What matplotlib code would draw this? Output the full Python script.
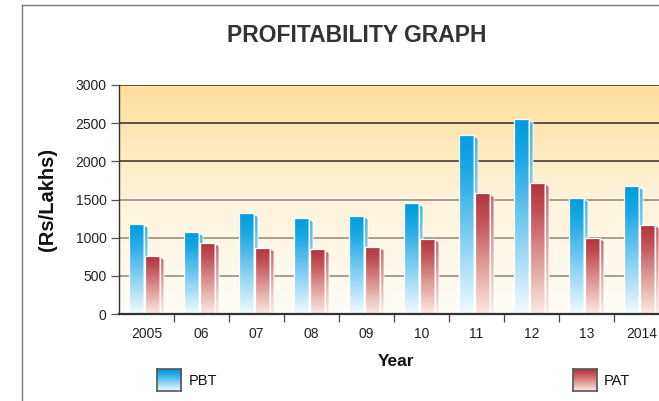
import numpy as np
import matplotlib
matplotlib.use("Agg")
import matplotlib.pyplot as plt
from matplotlib.colors import LinearSegmentedColormap
from matplotlib.patches import Polygon, Rectangle
from matplotlib.lines import Line2D

plt.rcParams['font.family'] = ['Liberation Sans', 'DejaVu Sans']

years = ["2005", "06", "07", "08", "09", "10", "11", "12", "13", "2014"]
pbt = [1180, 1070, 1320, 1255, 1290, 1450, 2345, 2550, 1520, 1675]
pat = [760, 935, 870, 845, 880, 985, 1580, 1715, 1000, 1170]
series_names = ["PBT", "PAT"]
yticks = [0, 500, 1000, 1500, 2000, 2500, 3000]

W, H = 659, 401
fig = plt.figure(figsize=(W / 100, H / 100), dpi=100)
fig.patch.set_facecolor("white")

ax = fig.add_axes([119 / W, (H - 314) / H, 550 / W, 229 / H])
ax.set_xlim(-0.5, len(years) - 0.5)
ax.set_ylim(0, 3000)

# background gradient
bg_cmap = LinearSegmentedColormap.from_list("bg", ["#FFFDF8", "#FEF3DA", "#FDDF9B"])
grad = np.linspace(0, 1, 256).reshape(-1, 1)
ax.imshow(grad, cmap=bg_cmap, origin="lower", aspect="auto",
          extent=[-0.5, len(years) - 0.5, 0, 3000], zorder=0)

# gridlines
for v in yticks[1:]:
    col = "#2e2e2e" if v >= 2000 else "#8d877b"
    ax.axhline(v, color=col, lw=1.1, zorder=1)

blue_cmap = LinearSegmentedColormap.from_list(
    "b", [(0, "#F2FAFE"), (0.45, "#7ACCF0"), (0.8, "#1CA8E4"), (1, "#009CDD")])
red_cmap = LinearSegmentedColormap.from_list(
    "r", [(0, "#FBE9E4"), (0.45, "#DC9490"), (0.8, "#C04E52"), (1, "#B2343B")])
blue_side = LinearSegmentedColormap.from_list(
    "bs", [(0, "#F4FBFE"), (0.5, "#9AD8F3"), (1, "#3DB4E8")])
red_side = LinearSegmentedColormap.from_list(
    "rs", [(0, "#FCEDEA"), (0.5, "#E5AAA6"), (1, "#C8625F")])

wf = 15 / 55   # front face width
ws = 4 / 55    # side face width
dtop = 45      # slant of side top (data units)


def draw_bar(x0, h, cmap, scmap, z):
    g = np.linspace(0, 1, 200).reshape(-1, 1)
    im = ax.imshow(g, cmap=cmap, origin="lower", aspect="auto",
                   extent=[x0, x0 + wf, 0, h], zorder=z)
    front = Rectangle((x0, 0), wf, h, transform=ax.transData)
    im.set_clip_path(front)
    xr = x0 + wf
    side_pts = [(xr, 0), (xr, h - 10), (xr + ws * 0.6, h - dtop * 0.7),
                (xr + ws, h - dtop), (xr + ws, 0)]
    im2 = ax.imshow(g, cmap=scmap, origin="lower", aspect="auto",
                    extent=[xr, xr + ws, 0, h], zorder=z)
    sp = Polygon(side_pts, closed=True, transform=ax.transData)
    im2.set_clip_path(sp)
    ax.add_patch(Rectangle((x0, 0), wf, h, fill=False, ec="white", lw=0.9, zorder=z + 0.1))
    ax.add_patch(Polygon(side_pts, closed=True, fill=False, ec="white", lw=0.6, zorder=z + 0.1))


x = np.arange(len(years))
for i in range(len(years)):
    draw_bar(x[i] - 17.5 / 55, pbt[i], blue_cmap, blue_side, 2)
    draw_bar(x[i] - 1.5 / 55, pat[i], red_cmap, red_side, 3)

ax.set_xlim(-0.5, len(years) - 0.5)
ax.set_ylim(0, 3000)

# axes styling
for s in ["top", "right"]:
    ax.spines[s].set_visible(False)
ax.spines["left"].set_color("#333333")
ax.spines["bottom"].set_color("#333333")
ax.spines["bottom"].set_linewidth(1.6)
ax.spines["left"].set_linewidth(1.0)
ax.spines["left"].set_zorder(5)
ax.spines["bottom"].set_zorder(5)

ax.set_yticks(yticks)
ax.set_yticklabels([str(v) for v in yticks], fontsize=10, color="#222222")
ax.tick_params(axis="y", direction="out", length=6, width=0.9, color="#555555", pad=3)

ax.set_xticks(np.arange(0.5, len(years) - 0.5, 1.0))
ax.set_xticklabels([])
ax.set_xticks(x, minor=True)
ax.set_xticklabels(years, minor=True, fontsize=10, color="#222222")
ax.tick_params(axis="x", which="major", direction="out", length=6, width=0.9, color="#444444")
ax.tick_params(axis="x", which="minor", length=0, pad=9)

fig.text(396 / W, 1 - 361 / H, "Year", ha="center", va="center",
         fontsize=12.5, fontweight="bold", color="#111111")
fig.text(47 / W, 1 - 199 / H, "(Rs/Lakhs)", ha="center", va="center", rotation=90,
         fontsize=14.5, fontweight="bold", color="#111111")
fig.text(357 / W, 1 - 36 / H, "PROFITABILITY GRAPH", ha="center", va="center",
         fontsize=16.5, fontweight="bold", color="#333333")

# frame lines
fig.add_artist(Line2D([22 / W, 22 / W], [0, 1 - 5 / H], transform=fig.transFigure,
                      color="#7a7a7a", lw=1.0))
fig.add_artist(Line2D([22 / W, 1], [1 - 5 / H, 1 - 5 / H], transform=fig.transFigure,
                      color="#7a7a7a", lw=1.0))

# legend boxes
def legend_box(x0, cmap, label, tx):
    lax = fig.add_axes([x0 / W, (H - 391) / H, 24 / W, 22 / H])
    g = np.linspace(0, 1, 100).reshape(-1, 1)
    lax.imshow(g, cmap=cmap, origin="lower", aspect="auto", extent=[0, 1, 0, 1])
    lax.set_xticks([]); lax.set_yticks([])
    for s in lax.spines.values():
        s.set_color("#555555"); s.set_linewidth(1.2)
    fig.text(tx / W, 1 - 381 / H, label, ha="left", va="center", fontsize=10.5, color="#111111")

legend_box(157, blue_cmap, series_names[0], 189)
legend_box(573, red_cmap, series_names[1], 604)

fig.savefig("out.png", dpi=100)
